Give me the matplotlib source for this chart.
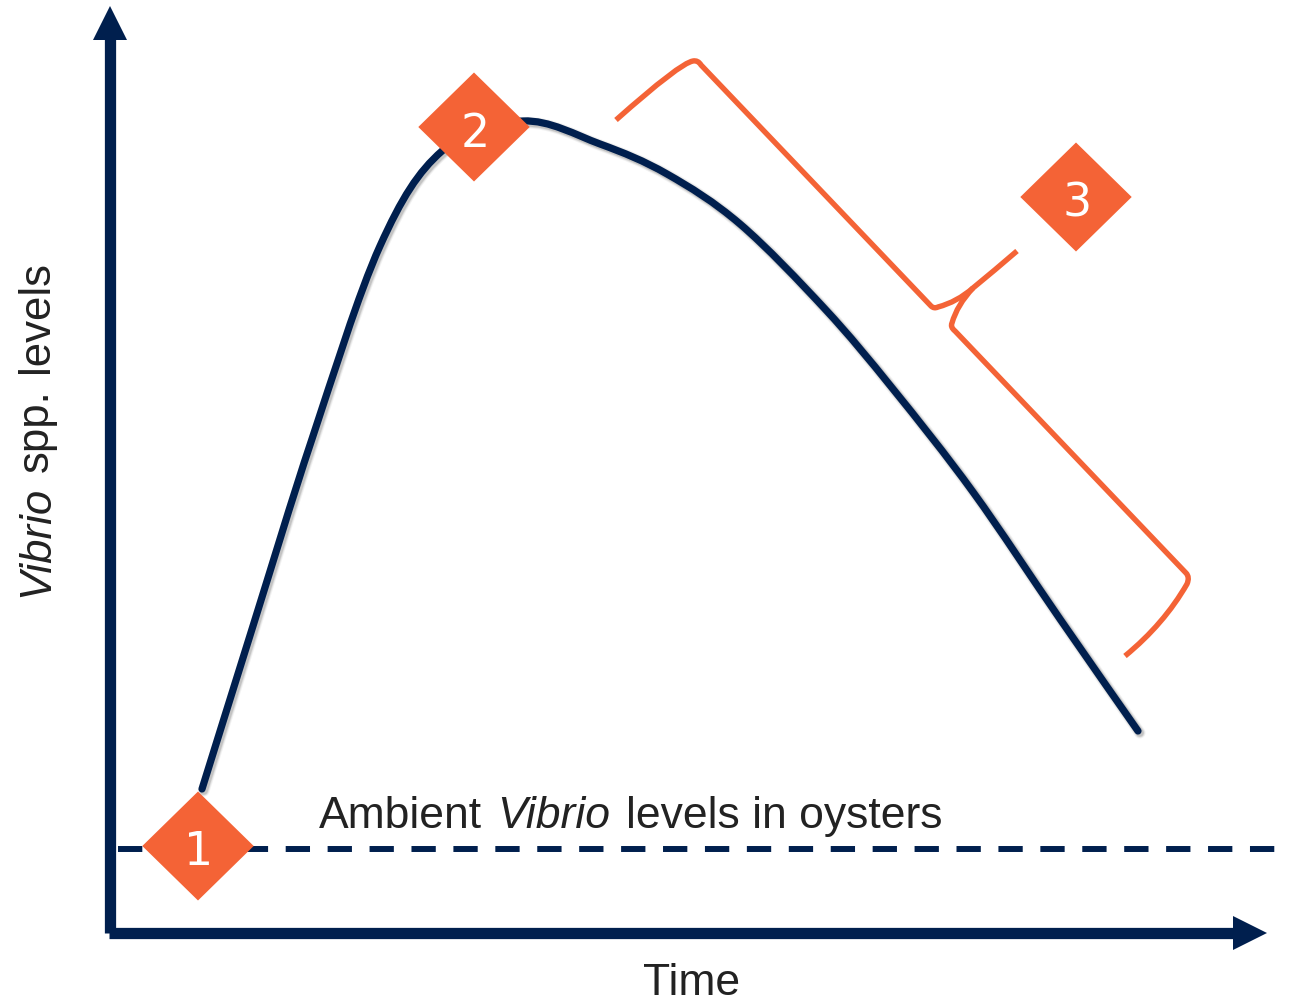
import matplotlib
matplotlib.use('Agg')
import matplotlib.pyplot as plt
import matplotlib.patheffects as pe
from matplotlib.path import Path
from matplotlib.patches import PathPatch, Polygon

W, H = 1291, 1003
NAVY = '#001f4e'
ORANGE = '#f46336'
TEXT = '#222222'
FONT = ['Liberation Sans', 'DejaVu Sans']
FS = 32

curve_x = [202, 253, 312, 380, 442, 523, 600, 667, 740, 825, 893, 973, 1060, 1138]
curve_y = [790, 627, 440, 247, 152, 122, 145, 175, 225, 310, 390, 493, 620, 732]
ambient_x = [117.5, 1278]
ambient_y = [849.5, 849.5]
marker_labels = ['1', '2', '3']
marker_x = [198, 474, 1076]
marker_y = [847, 128, 198]
x_label = 'Time'
y_label_parts = ['Vibrio', 'spp.', 'levels']
y_label_pos = [597, 472, 373]
ambient_parts = ['Ambient', 'Vibrio', 'levels in oysters']
ambient_pos = [318.5, 497, 626]

plt.rcParams['font.family'] = FONT

fig = plt.figure(figsize=(W/100, H/100), dpi=100)
ax = fig.add_axes([0, 0, 1, 1])
ax.set_xlim(0, W)
ax.set_ylim(H, 0)
ax.axis('off')


def smooth_path(xs, ys):
    """Catmull-Rom through the read points, expressed as Bezier segments."""
    p = list(zip(xs, ys))
    verts = [p[0]]
    codes = [Path.MOVETO]
    for i in range(len(p) - 1):
        p0 = p[max(i - 1, 0)]
        p1 = p[i]
        p2 = p[i + 1]
        p3 = p[min(i + 2, len(p) - 1)]
        c1 = (p1[0] + (p2[0] - p0[0]) / 6, p1[1] + (p2[1] - p0[1]) / 6)
        c2 = (p2[0] - (p3[0] - p1[0]) / 6, p2[1] - (p3[1] - p1[1]) / 6)
        verts += [c1, c2, p2]
        codes += [Path.CURVE4] * 3
    return Path(verts, codes)


# axes arrows
LW_AXIS = 8.1
ax.plot([109.8, 109.8], [933.5, 35], color=NAVY, lw=LW_AXIS, solid_capstyle='butt')
ax.plot([109.3, 1235], [933.7, 933.7], color=NAVY, lw=LW_AXIS, solid_capstyle='butt')
ax.add_patch(Polygon([[93, 41], [110, 7], [127, 41]], color=NAVY, lw=0))
ax.add_patch(Polygon([[1233, 917], [1267, 934], [1233, 951]], color=NAVY, lw=0))

# ambient
ax.plot(ambient_x, ambient_y, color=NAVY, lw=4.3, solid_capstyle='butt',
        dashes=(4.07, 2.95), dash_capstyle='butt')

# curve, with its soft shadow
shadow = [pe.Stroke(linewidth=w, foreground='black', alpha=a, offset=(1.3, -1.3))
          for w, a in [(8.4, 0.05), (7.0, 0.08), (5.8, 0.12)]]
ax.add_patch(PathPatch(smooth_path(curve_x, curve_y), fc='none', ec=NAVY, lw=5.2,
                       capstyle='round', joinstyle='round',
                       path_effects=shadow + [pe.Normal()]))

# brace
M, L, Q = Path.MOVETO, Path.LINETO, Path.CURVE3
brace_a = [(616, 121), (680, 64), (693, 62), (698, 61), (701, 66), (931, 307), (934, 310), (938, 308), (957, 303), (973, 289), (995, 271), (1017, 252)]
codes_a = [M, Q, Q, Q, Q, L, Q, Q, Q, Q, Q, Q]
brace_b = [(973, 289), (957, 306), (952, 324), (950, 328), (955, 332), (1186, 574), (1190, 578), (1187, 585), (1164, 625), (1125, 657)]
codes_b = [M, Q, Q, Q, Q, L, Q, Q, Q, Q]
for verts, codes in ((brace_a, codes_a), (brace_b, codes_b)):
    ax.add_patch(PathPatch(Path(verts, codes), fc='none', ec=ORANGE, lw=3.9,
                           capstyle='butt', joinstyle='round'))

# markers
for lab, mx, my in zip(marker_labels, marker_x, marker_y):
    rx, ry = 55.7, 54.5
    ax.add_patch(Polygon([[mx-rx, my], [mx, my-ry], [mx+rx, my], [mx, my+ry]], color=ORANGE, lw=0, zorder=5))
    ax.text(mx+1, my+18.5, lab, color='white', fontsize=33, ha='center', va='baseline', zorder=6,
            family=['DejaVu Sans'])

# texts
ax.text(642.5, 995.5, x_label, fontsize=FS, color=TEXT, ha='left', va='baseline')
for part, pos, st in zip(y_label_parts, y_label_pos, ['italic', 'normal', 'normal']):
    ax.text(48, pos, part, fontsize=31.5, color=TEXT, ha='left', va='baseline', rotation=90,
            rotation_mode='anchor', style=st)
for part, pos, st in zip(ambient_parts, ambient_pos, ['normal', 'italic', 'normal']):
    ax.text(pos, 828, part, fontsize=FS, color=TEXT, ha='left', va='baseline', style=st)

fig.savefig('out.png', dpi=100)
